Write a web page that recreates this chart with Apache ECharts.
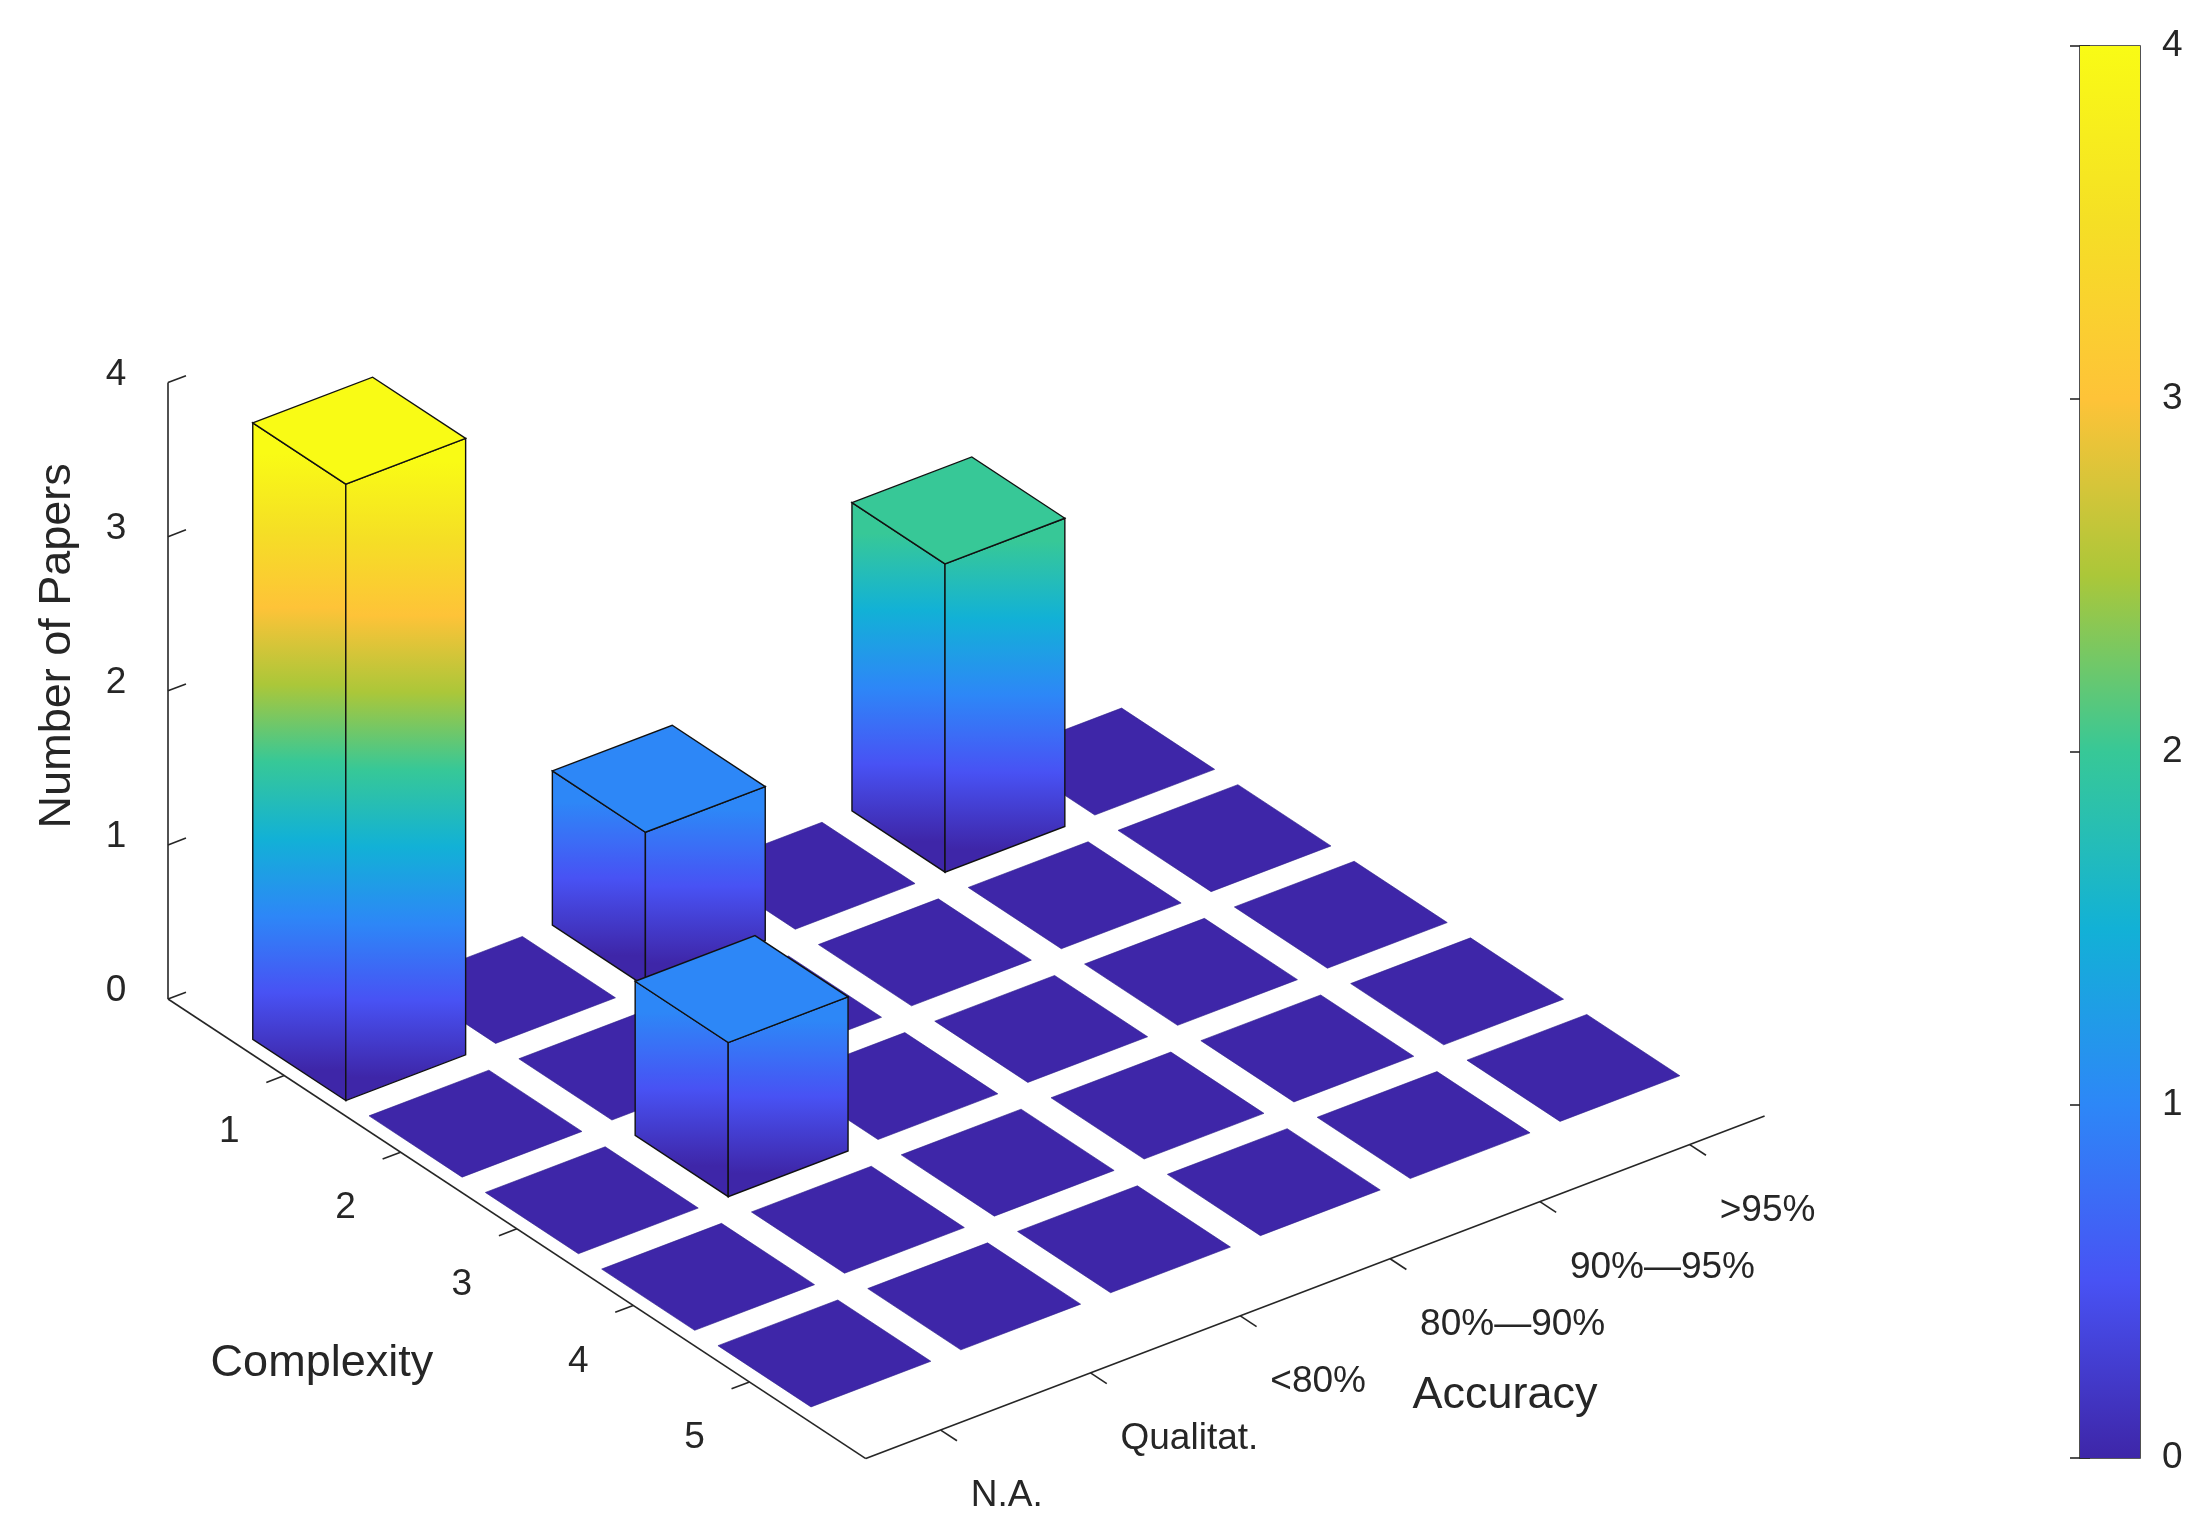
<!DOCTYPE html>
<html>
<head>
<meta charset="utf-8">
<script src="https://cdn.jsdelivr.net/npm/echarts@6/dist/echarts.min.js"></script>
<style>html,body{margin:0;padding:0;background:#fff;}#main{width:2211px;height:1526px;}</style>
</head>
<body>
<div id="main"></div>
<script>
// data
var complexity = ['1', '2', '3', '4', '5'];
var accuracy = ['N.A.', 'Qualitat.', '<80%', '80%\u201490%', '90%\u201495%', '>95%'];
var papers = [
    [4, 0, 1, 0, 2, 0],
    [0, 0, 0, 0, 0, 0],
    [0, 1, 0, 0, 0, 0],
    [0, 0, 0, 0, 0, 0],
    [0, 0, 0, 0, 0, 0]
];
var zTicks = [0, 1, 2, 3, 4];
var zMax = 4;

var W = 2211, H = 1526;
var FONT = 'Liberation Sans, Arial, sans-serif';

// parula colormap
var parulaStops = [
    [0.000, [62, 38, 168]], [0.125, [72, 82, 244]], [0.250, [45, 135, 247]],
    [0.375, [18, 177, 214]], [0.500, [55, 200, 151]], [0.625, [171, 199, 57]],
    [0.750, [254, 195, 56]], [0.875, [245, 223, 37]], [1.000, [249, 251, 21]]
];
function parula(t) {
    t = Math.max(0, Math.min(1, t));
    for (var i = 1; i < parulaStops.length; i++) {
        if (t <= parulaStops[i][0]) {
            var a = parulaStops[i - 1], b = parulaStops[i];
            var f = (t - a[0]) / (b[0] - a[0]);
            var c = a[1].map(function (v, k) { return Math.round(v + (b[1][k] - v) * f); });
            return 'rgb(' + c.join(',') + ')';
        }
    }
    return 'rgb(249,251,21)';
}

// oblique view of the 3-D box (pixel units on the hidden grid)
var O = [168, 999];          // complexity 0, accuracy 0.5, height 0
var uC = [116.3, 76.6];      // one complexity step
var uA = [149.8, -57.1];     // one accuracy step
var uZ = 154.1;              // one paper
function proj(c, a, z) {
    return [O[0] + c * uC[0] + (a - 0.5) * uA[0], O[1] + c * uC[1] + (a - 0.5) * uA[1] - z * uZ];
}

// cells, drawn back to front
var cells = [];
papers.forEach(function (row, i) {
    row.forEach(function (v, j) { cells.push([i + 1, j + 1, v]); });
});
cells.sort(function (p, q) { return (p[0] - p[1]) - (q[0] - q[1]); });

function gradStops(v) {
    var s = [];
    for (var k = 0; k <= 8; k++) s.push({ offset: k / 8, color: parula((v * (1 - k / 8)) / zMax) });
    return s;
}

function renderBar(params, api) {
    var c = api.value(0), a = api.value(1), v = api.value(2), h = 0.4;
    function P(dc, da, z) { return api.coord(proj(c + dc, a + da, z)); }
    var poly = function (pts) { return pts; };
    if (v === 0) {
        return {
            type: 'polygon',
            shape: { points: [P(-h, -h, 0), P(h, -h, 0), P(h, h, 0), P(-h, h, 0)] },
            style: { fill: parula(0), stroke: '#2c1d8a', lineWidth: 0.6 }
        };
    }
    var edge = { stroke: '#111', lineWidth: 1.4 };
    function face(p1, p2) {
        var top1 = P(p1[0], p1[1], v), top2 = P(p2[0], p2[1], v);
        var bot2 = P(p2[0], p2[1], 0), bot1 = P(p1[0], p1[1], 0);
        var mx = (top1[0] + top2[0]) / 2;
        var ty = (top1[1] + top2[1]) / 2, by = (bot1[1] + bot2[1]) / 2;
        return {
            type: 'polygon',
            shape: { points: poly([top1, top2, bot2, bot1]) },
            style: Object.assign({
                fill: new echarts.graphic.LinearGradient(mx, ty, mx, by, gradStops(v), true)
            }, edge)
        };
    }
    return {
        type: 'group',
        children: [
            face([-h, -h], [h, -h]),   // left face
            face([h, -h], [h, h]),     // front face
            {
                type: 'polygon',
                shape: { points: [P(-h, -h, v), P(h, -h, v), P(h, h, v), P(-h, h, v)] },
                style: Object.assign({ fill: parula(v / zMax) }, edge)
            }
        ]
    };
}

function renderAxes(params, api) {
    var kids = [];
    var ls = { stroke: '#262626', lineWidth: 1.6 };
    function line(p, q) {
        kids.push({ type: 'line', shape: { x1: p[0], y1: p[1], x2: q[0], y2: q[1] }, style: ls });
    }
    function text(s, p, opt) {
        kids.push({
            type: 'text', x: p[0], y: p[1], rotation: opt.rot || 0,
            style: { text: s, fill: '#262626', font: opt.font, align: opt.align || 'center', verticalAlign: 'middle' }
        });
    }
    var tickFont = '37px ' + FONT, titleFont = '45px ' + FONT;
    var nC = complexity.length + 1, nA = accuracy.length;
    var C = function (c, a, z) { return api.coord(proj(c, a, z)); };
    // vertical axis
    line(C(0, 0.5, 0), C(0, 0.5, zMax));
    zTicks.forEach(function (t) {
        var p = C(0, 0.5, t), q = C(0, 0.62, t);
        line(p, q);
        text(String(t), [p[0] - 52, p[1] - 8], { font: tickFont });
    });
    text('Number of Papers', [C(0, 0.5, 2)[0] - 110, C(0, 0.5, 2)[1] - 45], { font: titleFont, rot: Math.PI / 2 });
    // complexity axis
    line(C(0, 0.5, 0), C(nC, 0.5, 0));
    complexity.forEach(function (lab, i) {
        var p = C(i + 1, 0.5, 0), q = C(i + 1, 0.38, 0);
        line(p, q);
        text(lab, [p[0] - 55, p[1] + 56], { font: tickFont });
    });
    text('Complexity', [C(3, 0.5, 0)[0] - 195, C(3, 0.5, 0)[1] + 135], { font: titleFont });
    // accuracy axis
    line(C(nC, 0.5, 0), C(nC, nA + 0.5, 0));
    accuracy.forEach(function (lab, j) {
        var p = C(nC, j + 1, 0), q = C(nC + 0.14, j + 1, 0);
        line(p, q);
        text(lab, [p[0] + 30, p[1] + 66], { font: tickFont, align: 'left' });
    });
    text('Accuracy', [C(nC, 4.4, 0)[0] + 55, C(nC, 4.4, 0)[1] + 160], { font: titleFont });
    return { type: 'group', children: kids };
}

var chart = echarts.init(document.getElementById('main'));
chart.setOption({
    backgroundColor: '#fff',
    animation: false,
    grid: [
        { left: 0, right: 0, top: 0, bottom: 0, show: false },
        { left: 2080, width: 60, top: 46, height: 1412, show: true, borderColor: '#262626', borderWidth: 1.6 }
    ],
    xAxis: [
        { gridIndex: 0, type: 'value', min: 0, max: W, show: false },
        { gridIndex: 1, type: 'value', min: 0, max: 1, show: false }
    ],
    yAxis: [
        { gridIndex: 0, type: 'value', min: 0, max: H, inverse: true, show: false },
        {
            gridIndex: 1, type: 'value', min: 0, max: zMax, interval: 1, position: 'right',
            axisLine: { show: false }, splitLine: { show: false },
            axisTick: { inside: true, length: 10, lineStyle: { color: '#262626', width: 1.6 } },
            axisLabel: { margin: 22, fontSize: 37, fontFamily: FONT, color: '#262626' }
        },
        {
            gridIndex: 1, type: 'value', min: 0, max: zMax, interval: 1, position: 'left',
            axisLine: { show: false }, splitLine: { show: false }, axisLabel: { show: false },
            axisTick: { inside: true, length: 10, lineStyle: { color: '#262626', width: 1.6 } }
        }
    ],
    series: [
        {
            type: 'custom', xAxisIndex: 1, yAxisIndex: 1, data: [[0]], silent: true, z: 1,
            renderItem: function (params, api) {
                var lo = api.coord([0, 0]), hi = api.coord([1, zMax]);
                var s = [];
                for (var k = 0; k <= 16; k++) s.push({ offset: k / 16, color: parula(1 - k / 16) });
                return {
                    type: 'rect',
                    shape: { x: lo[0], y: hi[1], width: hi[0] - lo[0], height: lo[1] - hi[1] },
                    style: { fill: new echarts.graphic.LinearGradient(0, 0, 0, 1, s) }
                };
            }
        },
        { type: 'custom', xAxisIndex: 0, yAxisIndex: 0, data: [[0]], silent: true, renderItem: renderAxes },
        { type: 'custom', xAxisIndex: 0, yAxisIndex: 0, data: cells, silent: true, renderItem: renderBar }
    ]
});
</script>
</body>
</html>
